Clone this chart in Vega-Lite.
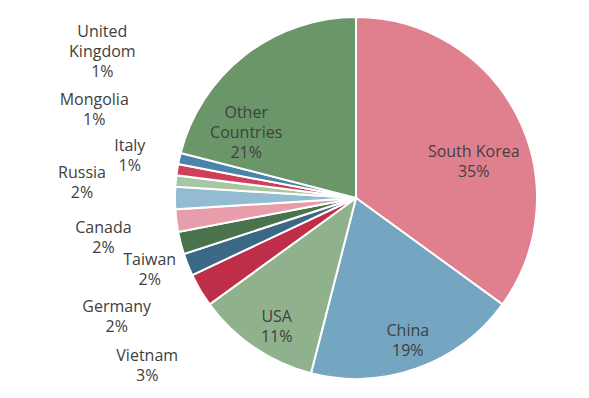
{
  "$schema": "https://vega.github.io/schema/vega-lite/v6.json",
  "width": 466,
  "height": 396,
  "autosize": {"type": "none"},
  "padding": {"left": 123, "top": 0, "right": 0, "bottom": 2},
  "background": "white",
  "config": {"view": {"stroke": null}, "text": {"font": "Open Sans", "fontSize": 16, "fill": "#404040", "lineBreak": "\n", "lineHeight": 20, "align": "center", "baseline": "middle"}},
  "data": {"values": [
    {"rank": 1, "country": "South Korea", "share": 35, "label": "South Korea\n35%"},
    {"rank": 2, "country": "China", "share": 19, "label": "China\n19%"},
    {"rank": 3, "country": "USA", "share": 11, "label": "USA\n11%"},
    {"rank": 4, "country": "Vietnam", "share": 3, "label": "Vietnam\n3%"},
    {"rank": 5, "country": "Germany", "share": 2, "label": "Germany\n2%"},
    {"rank": 6, "country": "Taiwan", "share": 2, "label": "Taiwan\n2%"},
    {"rank": 7, "country": "Canada", "share": 2, "label": "Canada\n2%"},
    {"rank": 8, "country": "Russia", "share": 2, "label": "Russia\n2%"},
    {"rank": 9, "country": "Italy", "share": 1, "label": "Italy\n1%"},
    {"rank": 10, "country": "Mongolia", "share": 1, "label": "Mongolia\n1%"},
    {"rank": 11, "country": "United Kingdom", "share": 1, "label": "United\nKingdom\n1%"},
    {"rank": 12, "country": "Other Countries", "share": 21, "label": "Other\nCountries\n21%"}
  ]},
  "encoding": {
    "theta": {"field": "share", "type": "quantitative", "stack": true},
    "order": {"field": "rank", "type": "quantitative"}
  },
  "layer": [
    {
      "mark": {"type": "arc", "radius": 181, "stroke": "white", "strokeWidth": 2},
      "encoding": {
        "color": {"field": "country", "type": "nominal", "legend": null, "sort": null,
          "scale": {
            "domain": ["South Korea", "China", "USA", "Vietnam", "Germany", "Taiwan", "Canada", "Russia", "Italy", "Mongolia", "United Kingdom", "Other Countries"],
            "range": ["#E0808F", "#74A5C1", "#8FB28C", "#BE2E48", "#3A6885", "#4A724C", "#E89DAB", "#93BCD2", "#A9C6A3", "#CF3F5A", "#4A84AA", "#6A9669"]
          }}
      }
    },
    {"mark": {"type": "text", "radius": 140, "dx": -7, "dy": 18},
     "encoding": {"text": {"condition": {"test": "datum.country === 'South Korea'", "field": "label"}, "value": ""}}},
    {"mark": {"type": "text", "radius": 150, "dx": 1, "dy": -8},
     "encoding": {"text": {"condition": {"test": "datum.country === 'China'", "field": "label"}, "value": ""}}},
    {"mark": {"type": "text", "radius": 150, "dx": 5, "dy": -5},
     "encoding": {"text": {"condition": {"test": "datum.country === 'USA'", "field": "label"}, "value": ""}}},
    {"mark": {"type": "text", "radius": 140, "dx": -24, "dy": 26},
     "encoding": {"text": {"condition": {"test": "datum.country === 'Other Countries'", "field": "label"}, "value": ""}}},
    {"mark": {"type": "text", "radius": 181, "dx": -53, "dy": 66},
     "encoding": {"text": {"condition": {"test": "datum.country === 'Vietnam'", "field": "label"}, "value": ""}}},
    {"mark": {"type": "text", "radius": 181, "dx": -71, "dy": 42},
     "encoding": {"text": {"condition": {"test": "datum.country === 'Germany'", "field": "label"}, "value": ""}}},
    {"mark": {"type": "text", "radius": 181, "dx": -31, "dy": 17},
     "encoding": {"text": {"condition": {"test": "datum.country === 'Taiwan'", "field": "label"}, "value": ""}}},
    {"mark": {"type": "text", "radius": 181, "dx": -73, "dy": 7},
     "encoding": {"text": {"condition": {"test": "datum.country === 'Canada'", "field": "label"}, "value": ""}}},
    {"mark": {"type": "text", "radius": 181, "dx": -93, "dy": -25},
     "encoding": {"text": {"condition": {"test": "datum.country === 'Russia'", "field": "label"}, "value": ""}}},
    {"mark": {"type": "text", "radius": 181, "dx": -46, "dy": -35},
     "encoding": {"text": {"condition": {"test": "datum.country === 'Italy'", "field": "label"}, "value": ""}}},
    {"mark": {"type": "text", "radius": 181, "dx": -83, "dy": -70},
     "encoding": {"text": {"condition": {"test": "datum.country === 'Mongolia'", "field": "label"}, "value": ""}}},
    {"mark": {"type": "text", "radius": 181, "dx": -77, "dy": -127},
     "encoding": {"text": {"condition": {"test": "datum.country === 'United Kingdom'", "field": "label"}, "value": ""}}}
  ]
}
